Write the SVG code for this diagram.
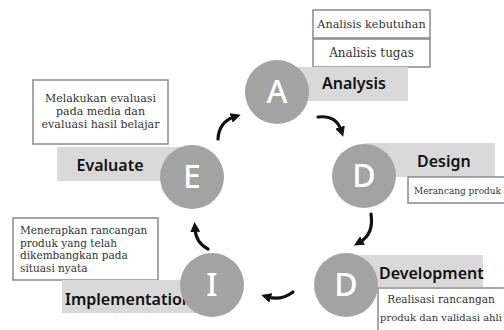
<svg xmlns="http://www.w3.org/2000/svg" width="504" height="330" viewBox="0 0 504 330">
<defs>
<style>
.bg{fill:#ffffff}
.circ{fill:#a3a3a3}
.letter{font-family:"Noto Sans","DejaVu Sans",sans-serif;font-size:32px;font-weight:500;fill:#ffffff;text-anchor:middle}
.band{fill:#d9d9d9}
.lbl{font-family:"Noto Sans","DejaVu Sans",sans-serif;font-size:16px;font-weight:600;fill:#111111}
.box{fill:#ffffff;stroke:#8a8a8a;stroke-width:1.5}
.desc{font-family:"DejaVu Serif","Liberation Serif",serif;font-size:10.5px;fill:#333333}
.arr{fill:none;stroke:#111111;stroke-width:3.2;stroke-linecap:round;marker-end:url(#head)}
</style>
<marker id="head" viewBox="0 0 10 10" refX="3" refY="5" markerWidth="10" markerHeight="10" markerUnits="userSpaceOnUse" orient="auto">
<path d="M0,0 L10,5 L0,10 z" fill="#111111"/>
</marker>
</defs>
<rect class="bg" x="0" y="0" width="504" height="330"/>

<g id="node-analysis">
<rect class="box" x="313" y="10" width="117" height="28"/>
<text class="desc" x="371.5" y="28" text-anchor="middle" style="font-size:11.2px">Analisis kebutuhan</text>
<rect class="box" x="313" y="39" width="117" height="28"/>
<text class="desc" x="371.5" y="57" text-anchor="middle" style="font-size:12px">Analisis tugas</text>
<rect class="band" x="290" y="67" width="118" height="34"/>
<text class="lbl" x="322" y="89">Analysis</text>
<circle class="circ" cx="277" cy="92" r="32"/>
<text class="letter" x="277" y="103">A</text>
</g>

<g id="node-design">
<rect class="band" x="364" y="143" width="131" height="34"/>
<text class="lbl" x="417" y="167">Design</text>
<rect class="box" x="408" y="177" width="110" height="26"/>
<text class="desc" x="414" y="194" style="font-size:9px" textLength="87" lengthAdjust="spacingAndGlyphs">Merancang produk</text>
<circle class="circ" cx="364" cy="176" r="32"/>
<text class="letter" x="364" y="187">D</text>
</g>

<g id="node-development">
<rect class="band" x="346" y="255" width="137" height="32"/>
<text class="lbl" x="379" y="279">Development</text>
<rect class="box" x="378" y="288" width="140" height="50"/>
<text class="desc" x="441" y="303" text-anchor="middle">Realisasi rancangan</text>
<text class="desc" x="441" y="321" text-anchor="middle" style="font-size:10px">produk dan validasi ahli</text>
<circle class="circ" cx="346" cy="285" r="32"/>
<text class="letter" x="346" y="296">D</text>
</g>

<g id="node-implementation">
<rect class="box" x="13" y="218" width="145" height="62"/>
<text class="desc" x="20" y="234">Menerapkan rancangan</text>
<text class="desc" x="20" y="247">produk yang telah</text>
<text class="desc" x="20" y="259">dikembangkan pada</text>
<text class="desc" x="20" y="272">situasi nyata</text>
<rect class="band" x="62" y="280" width="150" height="33"/>
<text class="lbl" x="65" y="305">Implementation</text>
<circle class="circ" cx="212" cy="285" r="32"/>
<text class="letter" x="212" y="296">I</text>
</g>

<g id="node-evaluate">
<rect class="box" x="33" y="80" width="135" height="64"/>
<text class="desc" x="100.5" y="102" text-anchor="middle" style="font-size:11px">Melakukan evaluasi</text>
<text class="desc" x="100.5" y="115" text-anchor="middle" style="font-size:11px">pada media dan</text>
<text class="desc" x="100.5" y="128" text-anchor="middle" style="font-size:11px">evaluasi hasil belajar</text>
<rect class="band" x="57" y="147" width="135" height="34"/>
<text class="lbl" x="110" y="171" text-anchor="middle">Evaluate</text>
<circle class="circ" cx="192" cy="177" r="32"/>
<text class="letter" x="192" y="188">E</text>
</g>

<g id="connectors">
<path class="arr" d="M318,117 Q336,115 341,130"/>
<path class="arr" d="M371,214 Q374,234 360,242"/>
<path class="arr" d="M293,292 Q281,301 268,297"/>
<path class="arr" d="M208,249 Q196,243 195,229"/>
<path class="arr" d="M218,139 Q219,122 234,117"/>
</g>
</svg>
